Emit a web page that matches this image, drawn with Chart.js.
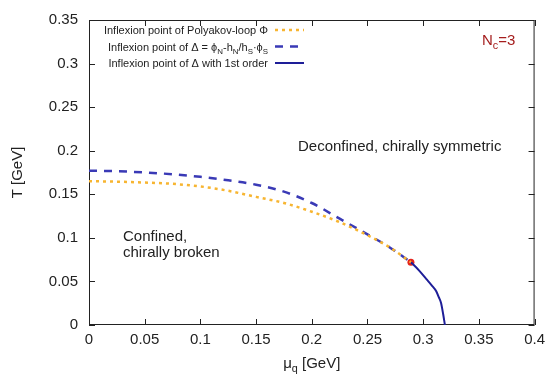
<!DOCTYPE html>
<html>
<head>
<meta charset="utf-8">
<script src="https://cdn.jsdelivr.net/npm/chart.js@4.4.1/dist/chart.umd.min.js"></script>
<style>
  body { margin: 0; background: #fff; }
  canvas { display: block; }
</style>
</head>
<body>
<canvas id="phase" width="551" height="376"></canvas>
<script>
// values
const muPoly = [0, 0.025, 0.05, 0.075, 0.1, 0.125, 0.15, 0.175, 0.2, 0.225, 0.25, 0.27, 0.289];
const tPoly  = [0.165, 0.1645, 0.1635, 0.162, 0.159, 0.154, 0.147, 0.140, 0.130, 0.118, 0.103, 0.089, 0.072];

const muDelta = [0, 0.025, 0.05, 0.075, 0.1, 0.125, 0.15, 0.175, 0.2, 0.225, 0.25, 0.27, 0.289];
const tDelta  = [0.177, 0.1765, 0.175, 0.173, 0.170, 0.166, 0.161, 0.153, 0.140, 0.122, 0.104, 0.089, 0.072];

const muFirst = [0.289, 0.296, 0.3027, 0.308, 0.3116, 0.314, 0.316, 0.318, 0.3195];
const tFirst  = [0.072, 0.063, 0.053, 0.045, 0.039, 0.032, 0.0256, 0.012, 0];

const endPoint = [0.289, 0.072];

const xTicks = [0, 0.05, 0.1, 0.15, 0.2, 0.25, 0.3, 0.35, 0.4];
const yTicks = [0, 0.05, 0.1, 0.15, 0.2, 0.25, 0.3, 0.35];

const ORANGE = "#f7b531";
const BLUE = "#3a3ab6";
const NAVY = "#1e1e98";
const RED = "#e5231b";
const FONT = "'Liberation Sans', Arial, sans-serif";

const pts = (xs, ys) => xs.map((x, i) => ({ x: x, y: ys[i] }));

// text with subscripts, drawn piece by piece
function drawRich(ctx, parts, x, y, size, align) {
  const sub = size * 0.72;
  let w = 0;
  parts.forEach(p => {
    ctx.font = (p[1] ? sub : size) + "px " + FONT;
    w += ctx.measureText(p[0]).width;
  });
  let cx = align === "right" ? x - w : align === "center" ? x - w / 2 : x;
  ctx.textAlign = "left";
  ctx.textBaseline = "alphabetic";
  parts.forEach(p => {
    ctx.font = (p[1] ? sub : size) + "px " + FONT;
    ctx.fillText(p[0], cx, p[1] ? y + size * 0.28 : y);
    cx += ctx.measureText(p[0]).width;
  });
}

const frame = {
  id: "frame",
  beforeDatasetsDraw(chart) {
    const { ctx, chartArea: a, scales: { x, y } } = chart;
    ctx.save();
    ctx.strokeStyle = "#222";
    ctx.lineWidth = 1;
    ctx.strokeRect(a.left + 0.5, a.top + 0.5, a.right - a.left - 1, a.bottom - a.top - 1);
    ctx.beginPath();
    xTicks.forEach(v => {
      const px = Math.round(x.getPixelForValue(v)) + 0.5;
      ctx.moveTo(px, a.bottom); ctx.lineTo(px, a.bottom - 6);
      ctx.moveTo(px, a.top); ctx.lineTo(px, a.top + 6);
    });
    yTicks.forEach(v => {
      const py = Math.round(y.getPixelForValue(v)) + 0.5;
      ctx.moveTo(a.left, py); ctx.lineTo(a.left + 6, py);
      ctx.moveTo(a.right, py); ctx.lineTo(a.right - 6, py);
    });
    ctx.stroke();
    ctx.restore();
  },
  afterDraw(chart) {
    const { ctx, chartArea: a } = chart;
    ctx.save();
    ctx.fillStyle = "#222";

    // axis titles
    drawRich(ctx, [["μ"], ["q", 1], [" [GeV]"]], (a.left + a.right) / 2, 367.5, 15, "center");
    ctx.save();
    ctx.translate(18, (a.top + a.bottom) / 2);
    ctx.rotate(-Math.PI / 2);
    ctx.font = "15px " + FONT;
    ctx.textAlign = "center";
    ctx.textBaseline = "middle";
    ctx.fillText("T [GeV]", 0, 0);
    ctx.restore();

    // region labels
    ctx.font = "15px " + FONT;
    ctx.textAlign = "left";
    ctx.textBaseline = "middle";
    ctx.fillText("Deconfined, chirally symmetric", 298, 147);
    ctx.fillText("Confined,", 123, 237);
    ctx.fillText("chirally broken", 123, 253);

    ctx.fillStyle = "#a51d1d";
    drawRich(ctx, [["N"], ["c", 1], ["=3"]], 482, 45, 15, "left");

    // legend
    const rows = [
      { parts: [["Inflexion point of Polyakov-loop Φ"]], color: ORANGE, dash: [3, 4], w: 2.5 },
      { parts: [["Inflexion point of Δ = ϕ"], ["N", 1], ["-h"], ["N", 1], ["/h"], ["S", 1], ["·ϕ"], ["S", 1]], color: BLUE, dash: [8, 7], w: 2.5 },
      { parts: [["Inflexion point of Δ with 1st order"]], color: NAVY, dash: [], w: 2 }
    ];
    rows.forEach((r, i) => {
      const yy = 30 + i * 16.5;
      ctx.fillStyle = "#222";
      drawRich(ctx, r.parts, 268, yy + 4, 11, "right");
      ctx.strokeStyle = r.color;
      ctx.lineWidth = r.w;
      ctx.setLineDash(r.dash);
      ctx.beginPath();
      ctx.moveTo(275, yy);
      ctx.lineTo(304, yy);
      ctx.stroke();
    });
    ctx.restore();
  }
};

new Chart(document.getElementById("phase"), {
  type: "scatter",
  data: {
    datasets: [
      {
        data: pts(muPoly, tPoly),
        showLine: true, pointRadius: 0,
        borderColor: ORANGE, borderWidth: 2.5, borderDash: [3, 4],
        cubicInterpolationMode: "monotone"
      },
      {
        data: pts(muDelta, tDelta),
        showLine: true, pointRadius: 0,
        borderColor: BLUE, borderWidth: 2.5, borderDash: [8, 7],
        cubicInterpolationMode: "monotone"
      },
      {
        data: pts(muFirst, tFirst),
        showLine: true, pointRadius: 0,
        borderColor: NAVY, borderWidth: 2,
        cubicInterpolationMode: "monotone"
      },
      {
        data: [{ x: endPoint[0], y: endPoint[1] }],
        pointRadius: 3.5, borderWidth: 0, backgroundColor: RED
      }
    ]
  },
  options: {
    responsive: false,
    animation: false,
    layout: { padding: { left: 0, top: 11, right: 14, bottom: 0 } },
    plugins: { legend: { display: false }, tooltip: { enabled: false } },
    scales: {
      x: {
        type: "linear", min: 0, max: 0.4,
        afterFit: s => { s.height = 51; },
        afterBuildTicks: s => { s.ticks = xTicks.map(v => ({ value: v })); },
        grid: { display: false, drawTicks: false }, border: { display: false },
        ticks: {
          padding: 6, color: "#222", maxRotation: 0,
          font: { family: FONT, size: 15 },
          callback: v => String(+v.toFixed(2))
        }
      },
      y: {
        min: 0, max: 0.35,
        afterFit: s => { s.width = 89; },
        afterBuildTicks: s => { s.ticks = yTicks.map(v => ({ value: v })); },
        grid: { display: false, drawTicks: false }, border: { display: false },
        ticks: {
          padding: 11, color: "#222",
          font: { family: FONT, size: 15 },
          callback: v => String(+v.toFixed(2))
        }
      }
    }
  },
  plugins: [frame]
});
</script>
</body>
</html>
